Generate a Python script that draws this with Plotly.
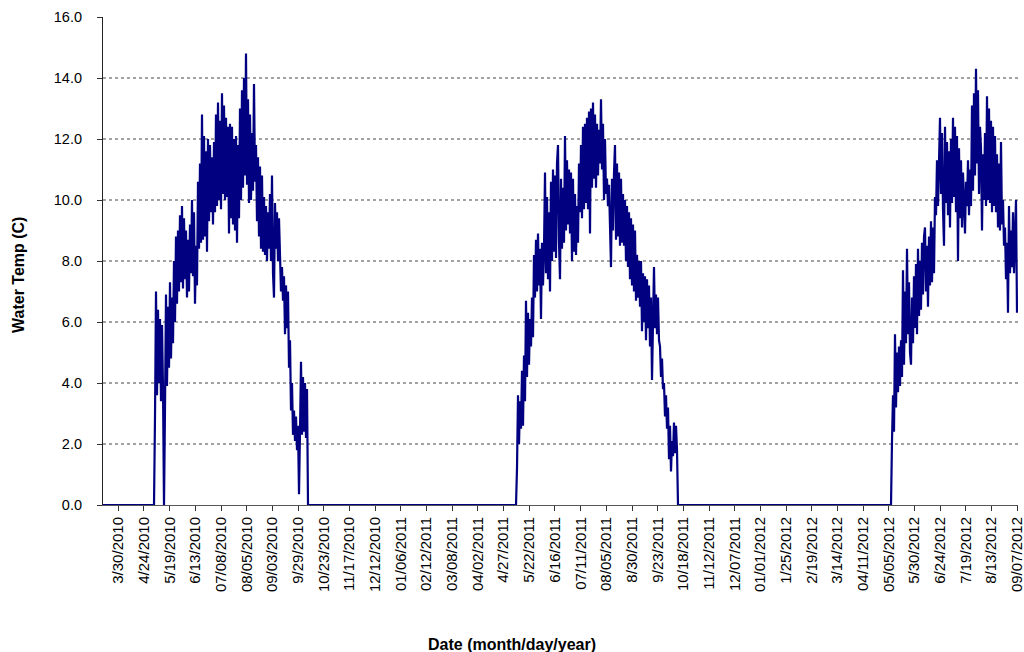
import plotly.graph_objects as go

# ---------------- data ----------------
TICK_LABELS = ["3/30/2010", "4/24/2010", "5/19/2010", "6/13/2010", "07/08/2010", "08/05/2010",
               "09/03/2010", "9/29/2010", "10/23/2010", "11/17/2010", "12/12/2010", "01/06/2011",
               "02/12/2011", "03/08/2011", "04/02/2011", "4/27/2011", "5/22/2011", "6/16/2011",
               "07/11/2011", "08/05/2011", "8/30/2011", "9/23/2011", "10/18/2011", "11/12/2011",
               "12/07/2011", "01/01/2012", "1/25/2012", "2/19/2012", "3/14/2012", "04/11/2012",
               "05/05/2012", "5/30/2012", "6/24/2012", "7/19/2012", "8/13/2012", "09/07/2012"]

Y_TICKS = [0, 2, 4, 6, 8, 10, 12, 14, 16]

# category-axis layout of the logger readings
FIRST_LABEL_READING = 15.3
READINGS_PER_LABEL = 25.686
TOTAL_READINGS = 915

# readings at 0 (logger out of the water)
ZERO_BEFORE_2010 = 52
ZERO_WINTER_2010 = 209
ZERO_WINTER_2011 = 214

SEASON_2010 = [
    2.9, 7.0, 3.6, 6.4, 4.0, 6.1, 3.4, 5.9, 3.8, 0.0,
    3.2, 6.9, 3.9, 6.5, 4.5, 7.3, 4.8, 6.8, 5.3, 8.0,
    6.0, 8.8, 6.6, 9.0, 7.0, 9.5, 7.3, 9.8, 7.1, 9.4,
    7.4, 9.0, 6.8, 8.7, 7.0, 9.2, 7.6, 10.0, 7.5, 9.6,
    6.6, 8.5, 7.2, 10.6, 8.4, 11.2, 8.6, 12.8, 8.7, 12.1,
    8.8, 11.6, 8.3, 12.0, 9.3, 11.8, 9.6, 11.4, 9.2, 11.9,
    9.6, 12.8, 9.8, 13.2, 10.0, 12.6, 9.7, 13.5, 10.2, 13.1,
    10.0, 12.7, 10.1, 12.4, 8.9, 12.5, 9.4, 12.4, 9.2, 12.0,
    9.0, 12.1, 8.6, 11.8, 9.4, 13.0, 10.0, 13.6, 10.4, 14.0,
    10.8, 14.8, 10.5, 13.3, 9.9, 12.8, 10.0, 12.2, 10.3, 13.8,
    10.6, 11.8, 9.3, 11.4, 8.8, 11.1, 8.4, 10.8, 8.3, 10.1,
    8.2, 9.8, 8.0, 9.6, 8.4, 10.2, 8.0, 10.8, 7.6, 6.8,
    9.9, 8.4, 9.6, 8.0, 9.4, 7.9, 7.0, 7.8, 6.7, 7.5,
    5.6, 7.2, 5.8, 7.0, 4.5, 5.4, 3.1, 4.0, 2.3, 3.1,
    2.1, 2.9, 1.8, 2.6, 0.35, 2.4, 4.7, 2.3, 4.2, 2.4,
    4.0, 2.2, 3.8,
]

SEASON_2011 = [
    1.2, 3.6, 2.0, 3.4, 2.5, 4.4, 2.6, 4.9, 3.4, 6.7,
    4.2, 6.3, 4.6, 6.1, 5.2, 6.8, 5.5, 8.2, 6.8, 8.7,
    7.0, 8.9, 7.2, 8.4, 6.1, 8.6, 7.2, 8.4, 10.9, 7.6,
    10.1, 7.4, 9.6, 7.0, 10.6, 8.0, 11.0, 8.3, 10.8, 8.1,
    11.2, 11.8, 8.6, 7.4, 10.7, 8.4, 10.4, 8.6, 12.1, 9.0,
    11.3, 9.2, 11.0, 8.9, 10.9, 8.0, 10.7, 8.3, 10.2, 8.2,
    9.8, 8.6, 11.2, 9.6, 11.8, 9.4, 12.4, 9.7, 12.5, 9.9,
    12.7, 9.7, 12.9, 8.9, 13.0, 10.4, 13.2, 10.7, 12.8, 10.4,
    12.5, 10.8, 12.3, 11.2, 13.3, 11.0, 12.5, 10.0, 12.0, 10.2,
    10.7, 9.8, 10.5, 8.5, 7.8, 10.7, 9.0, 10.9, 11.8, 8.7,
    11.2, 8.8, 10.9, 8.5, 10.7, 8.6, 10.2, 8.5, 10.0, 8.0,
    9.8, 7.8, 9.6, 7.4, 9.4, 7.2, 9.2, 7.0, 9.0, 6.7,
    8.2, 6.8, 8.0, 6.5, 8.0, 5.7, 7.6, 6.0, 7.5, 5.4,
    7.4, 5.8, 7.2, 5.2, 6.8, 4.1, 6.5, 7.8, 5.8, 6.9,
    5.6, 6.8, 5.4, 5.2, 4.2, 4.8, 3.8, 4.0, 2.9, 3.6,
    2.5, 3.2, 1.5, 2.6, 1.1, 2.1, 1.6, 2.7, 1.7, 2.6,
    1.8,
]

SEASON_2012 = [
    2.1, 3.6, 2.4, 5.6, 3.2, 5.0, 3.7, 5.2, 3.9, 5.4,
    4.2, 7.7, 4.6, 7.0, 5.3, 8.4, 5.6, 7.3, 5.0, 4.6,
    6.8, 5.3, 7.5, 5.8, 7.9, 5.6, 8.4, 6.2, 8.0, 6.4,
    8.6, 6.9, 8.8, 9.1, 7.0, 8.5, 6.5, 8.8, 7.2, 9.3,
    7.3, 9.1, 7.6, 10.1, 9.5, 11.3, 9.8, 10.9, 12.7, 10.2,
    12.2, 9.7, 8.5, 12.4, 9.9, 11.9, 9.5, 11.6, 9.1, 12.0,
    9.9, 12.7, 10.1, 12.4, 9.6, 12.1, 8.0, 11.7, 9.4, 11.3,
    9.1, 10.9, 9.3, 8.9, 10.6, 9.8, 11.3, 9.5, 11.0, 9.8,
    13.1, 10.3, 13.5, 10.8, 14.3, 11.2, 13.6, 10.2, 12.4, 11.7,
    9.0, 11.5, 10.0, 12.2, 9.8, 13.4, 10.0, 13.0, 9.9, 12.6,
    9.6, 12.4, 9.8, 12.1, 9.6, 11.5, 9.1, 11.2, 9.0, 11.9,
    9.2, 10.0, 8.5, 9.1, 7.4, 8.6, 6.3, 9.8, 7.6, 9.0,
    7.8, 9.6, 7.6, 9.2, 10.0, 6.3,
]

# ---------------- build series ----------------
temps = ([0.0] * ZERO_BEFORE_2010 + SEASON_2010 +
         [0.0] * ZERO_WINTER_2010 + SEASON_2011 +
         [0.0] * ZERO_WINTER_2011 + SEASON_2012)
readings = list(range(len(temps)))

tick_positions = [FIRST_LABEL_READING + k * READINGS_PER_LABEL for k in range(len(TICK_LABELS))]

FONT = "Arial, Liberation Sans, sans-serif"

fig = go.Figure()
fig.add_trace(go.Scatter(
    x=readings, y=temps, mode="lines",
    line=dict(color="#000080", width=2.2),
    showlegend=False, hoverinfo="skip", cliponaxis=False,
))

for v in Y_TICKS[1:-1]:
    fig.add_hline(y=v, line=dict(color="#444444", width=1, dash="dot"), layer="below")

fig.update_layout(
    width=1024, height=652,
    margin=dict(l=103, r=6, t=17, b=147, autoexpand=False),
    paper_bgcolor="white", plot_bgcolor="white",
    font=dict(family=FONT, color="black"),
    xaxis=dict(
        range=[0, TOTAL_READINGS], automargin=False,
        tickmode="array", tickvals=tick_positions, ticktext=TICK_LABELS,
        tickangle=-90, tickfont=dict(size=15, family=FONT, color="black"),
        ticks="outside", ticklen=5, tickcolor="#333333",
        showgrid=False, zeroline=False,
        showline=True, linecolor="#555555", linewidth=1,
        ticklabeloverflow="allow",
    ),
    yaxis=dict(
        range=[0, 16], automargin=False,
        tickmode="array", tickvals=Y_TICKS,
        ticktext=[f"{v:.1f}&nbsp;&nbsp;&nbsp;" for v in Y_TICKS],
        tickfont=dict(size=14.5, family=FONT, color="black"),
        ticks="outside", ticklen=5, tickcolor="#333333",
        showgrid=False, zeroline=False,
        showline=True, linecolor="#222222", linewidth=1,
        ticklabeloverflow="allow",
    ),
    annotations=[
        dict(text="<b>Water Temp (C)</b>", xref="paper", yref="paper",
             x=(18 - 103) / 915, y=(505 - 275) / 488, textangle=-90,
             showarrow=False, xanchor="center", yanchor="middle",
             font=dict(size=16, family=FONT, color="black")),
        dict(text="<b>Date (month/day/year)</b>", xref="paper", yref="paper",
             x=(512 - 103) / 915, y=(505 - 644) / 488,
             showarrow=False, xanchor="center", yanchor="middle",
             font=dict(size=16, family=FONT, color="black")),
    ],
)

fig.write_html("out.html", config={"displayModeBar": False},
               post_script="document.body.style.margin='0';document.body.style.overflow='hidden';")
